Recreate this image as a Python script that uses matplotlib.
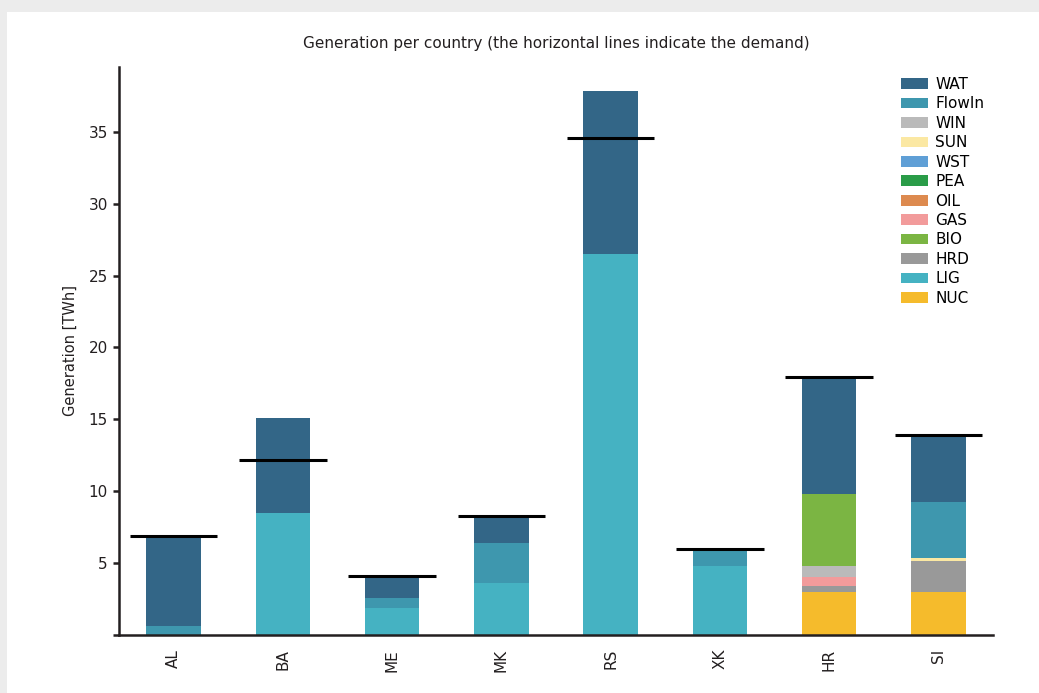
import numpy as np
import matplotlib
matplotlib.use('Agg')
import matplotlib.pyplot as plt
from matplotlib.patches import Rectangle, Patch

countries = ['AL', 'BA', 'ME', 'MK', 'RS', 'XK', 'HR', 'SI']

# generation per source [TWh], one value per country
NUC    = [0, 0, 0, 0, 0, 0, 2.96, 2.96]
LIG    = [0, 8.5, 1.85, 3.6, 26.5, 4.77, 0, 0]
HRD    = [0, 0, 0, 0, 0, 0, 0.42, 2.22]
OIL    = [0, 0, 0, 0, 0, 0, 0, 0]
GAS    = [0, 0, 0, 0, 0, 0, 0.62, 0]
PEA    = [0, 0, 0, 0, 0, 0, 0, 0]
WST    = [0, 0, 0, 0, 0, 0, 0, 0]
SUN    = [0, 0, 0, 0, 0, 0, 0, 0.14]
WIN    = [0, 0, 0, 0, 0, 0, 0.77, 0]
BIO    = [0, 0, 0, 0, 0, 0, 5.07, 0]
FlowIn = [0.6, 0, 0.7, 2.83, 0, 1.08, 0, 3.96]
WAT    = [6.25, 6.6, 1.5, 1.8, 11.3, 0.07, 8.04, 4.57]

demand = [6.9, 12.2, 4.1, 8.25, 34.57, 5.95, 17.97, 13.9]

colors = {
    'WAT': '#336687', 'FlowIn': '#3e97ae', 'WIN': '#bababa', 'SUN': '#fbe8a3',
    'WST': '#5f9fd6', 'PEA': '#2a9c48', 'OIL': '#dd8a4f', 'GAS': '#f29b9b',
    'BIO': '#7bb543', 'HRD': '#999999', 'LIG': '#45b2c2', 'NUC': '#f5bb2c',
}

# bottom-to-top order in the bars
stack = [('NUC', NUC), ('LIG', LIG), ('HRD', HRD), ('OIL', OIL), ('GAS', GAS),
         ('PEA', PEA), ('WST', WST), ('SUN', SUN), ('WIN', WIN), ('BIO', BIO),
         ('FlowIn', FlowIn), ('WAT', WAT)]
legend_order = ['WAT', 'FlowIn', 'WIN', 'SUN', 'WST', 'PEA', 'OIL', 'GAS',
                'BIO', 'HRD', 'LIG', 'NUC']

dark = '#231f20'

fig = plt.figure(figsize=(10.39, 6.93), dpi=100, facecolor='#ececec')
fig.patches.append(Rectangle((7 / 1039, 0), 1, 681 / 693, transform=fig.transFigure,
                             facecolor='white', edgecolor='none', zorder=-10))
ax = fig.add_axes([119 / 1039, 58 / 693, 874 / 1039, 568 / 693])
ax.set_facecolor('none')

x = np.arange(len(countries))
bottom = np.zeros(len(countries))
for name, vals in stack:
    vals = np.array(vals)
    ax.bar(x, vals, 0.5, bottom=bottom, color=colors[name], linewidth=0, zorder=2)
    bottom += vals

ax.hlines(demand, x - 0.4, x + 0.4, colors='black', linewidth=2.2, zorder=3)

ax.set_xlim(-0.5, 7.5)
ax.set_ylim(0, 39.5)
ax.set_xticks(x)
ax.set_xticklabels(countries, rotation=90, fontsize=11, color=dark)
ax.set_yticks([0, 5, 10, 15, 20, 25, 30, 35])
ax.set_yticklabels(['', '5', '10', '15', '20', '25', '30', '35'], fontsize=11, color=dark)
ax.tick_params(axis='x', length=0, pad=10)
ax.tick_params(axis='y', length=4, width=1.8, color=dark, pad=4)
for s in ['top', 'right']:
    ax.spines[s].set_visible(False)
for s in ['left', 'bottom']:
    ax.spines[s].set_linewidth(1.8)
    ax.spines[s].set_color(dark)

ax.set_ylabel('Generation [TWh]', fontsize=10.5, color=dark, labelpad=8)
ax.set_title('Generation per country (the horizontal lines indicate the demand)',
             fontsize=11, color=dark, pad=14)

handles = [Patch(facecolor=colors[n], edgecolor='none', label=n) for n in legend_order]
ax.legend(handles=handles, loc='upper left', bbox_to_anchor=(901 / 1039, 1 - 77 / 693),
          bbox_transform=fig.transFigure, frameon=False, fontsize=11,
          handlelength=1.75, handleheight=0.7, handletextpad=0.5, labelspacing=0.29,
          borderaxespad=0, borderpad=0)

fig.savefig('out.png', dpi=100, facecolor=fig.get_facecolor())
